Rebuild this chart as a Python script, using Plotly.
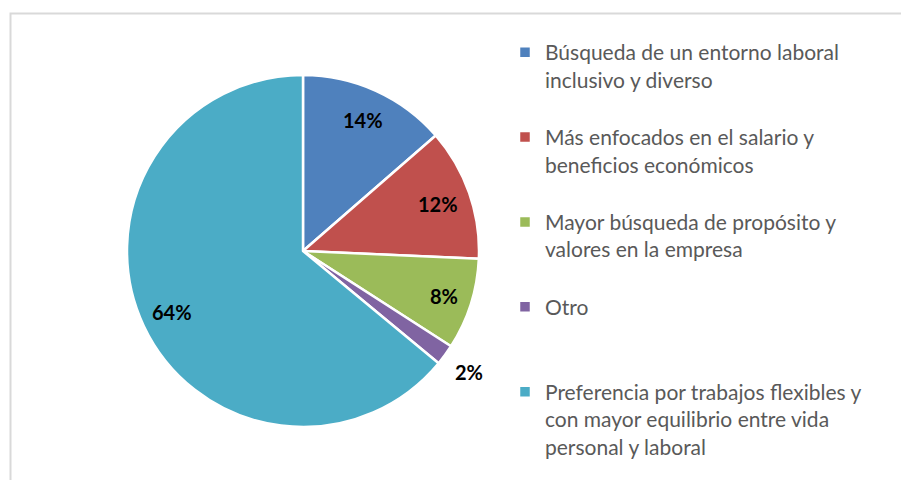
import math
import plotly.graph_objects as go

labels = [
    "Búsqueda de un entorno laboral<br>inclusivo y diverso<br> ",
    "Más enfocados en el salario y<br>beneficios económicos<br> ",
    "Mayor búsqueda de propósito y<br>valores en la empresa<br> ",
    "Otro<br> <br> ",
    "Preferencia por trabajos flexibles y<br>con mayor equilibrio entre vida<br>personal y laboral",
]
values = [13.6, 12.1, 8.4, 1.9, 64.0]
colors = ["#4F81BD", "#C0504D", "#9BBB59", "#8064A2", "#4BACC6"]
label_radius = [0.82, 0.81, 0.84, 1.165, 0.82]  # fraction of pie radius

# page body has an 8px margin, so the figure is drawn 8px right/down
W, H = 901, 472
cx, cy, r = 295, 243, 176

fig = go.Figure(
    go.Pie(
        labels=labels,
        values=values,
        sort=False,
        direction="clockwise",
        rotation=0,
        marker=dict(colors=colors, line=dict(color="white", width=2.5)),
        textinfo="none",
        domain=dict(x=[(cx - r) / W, (cx + r) / W], y=[(H - cy - r) / H, (H - cy + r) / H]),
        hoverinfo="label+percent",
    )
)

# percentage labels, placed from the slice angles computed from values
total = sum(values)
annotations = []
cum = 0.0
for v, fr in zip(values, label_radius):
    mid = (cum + v / 2) / total * 2 * math.pi
    cum += v
    d = fr * r
    px = cx + d * math.sin(mid)
    py = cy - d * math.cos(mid)
    annotations.append(
        dict(
            x=px / W, y=(H - py) / H, xref="paper", yref="paper",
            text=f"{round(v / total * 100):.0f}%", showarrow=False,
            xanchor="center", yanchor="middle",
            font=dict(family="Lato", size=20, color="black", weight="bold"),
        )
    )

fig.update_layout(
    width=W,
    height=H,
    margin=dict(l=0, r=0, t=0, b=0),
    paper_bgcolor="white",
    plot_bgcolor="white",
    showlegend=True,
    legend=dict(
        x=497 / W,
        y=1 - 24 / H,
        xanchor="left",
        yanchor="top",
        valign="top",
        font=dict(family="Lato", size=21, color="#595959"),
        bgcolor="rgba(0,0,0,0)",
    ),
    annotations=annotations,
    shapes=[
        dict(
            type="rect", xref="paper", yref="paper",
            x0=2.5 / W, x1=900.5 / W, y0=-0.05, y1=1 - 5.5 / H,
            line=dict(color="#D9D9D9", width=2), fillcolor="rgba(0,0,0,0)", layer="below",
        )
    ],
)

fig.write_html("out.html")
